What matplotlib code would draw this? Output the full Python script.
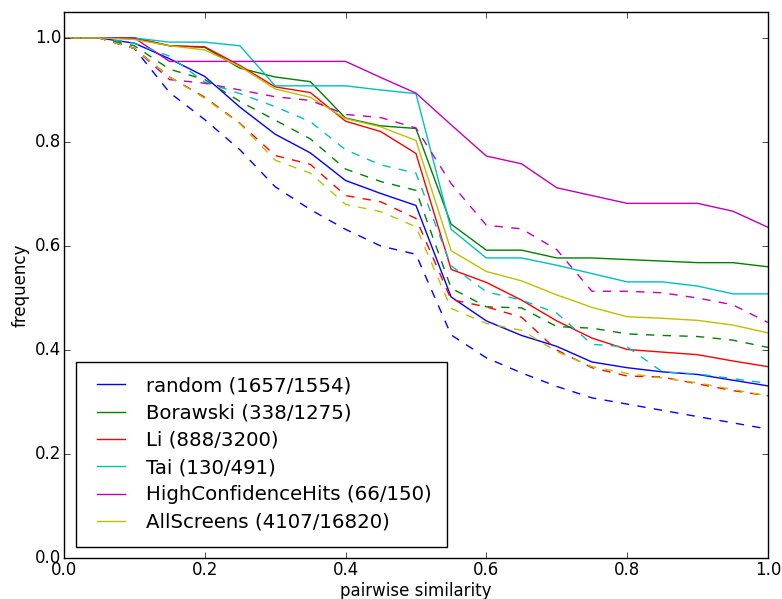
import matplotlib
matplotlib.use('Agg')
import matplotlib.pyplot as plt

plt.style.use('classic')

# similarity thresholds
sim = [0.0, 0.05, 0.1, 0.15, 0.2, 0.25, 0.3, 0.35, 0.4, 0.45, 0.5,
       0.55, 0.6, 0.65, 0.7, 0.75, 0.8, 0.85, 0.9, 0.95, 1.0]

labels = ['random (1657/1554)', 'Borawski (338/1275)', 'Li (888/3200)',
          'Tai (130/491)', 'HighConfidenceHits (66/150)', 'AllScreens (4107/16820)']
colors = ['b', 'g', 'r', 'c', 'm', 'y']

# solid lines
random_a = [1.0, 1.0, 0.99, 0.96, 0.926, 0.867, 0.815, 0.779, 0.726, 0.701, 0.678,
            0.502, 0.456, 0.428, 0.407, 0.377, 0.366, 0.358, 0.353, 0.342, 0.331]
borawski_a = [1.0, 1.0, 1.0, 0.985, 0.982, 0.942, 0.925, 0.916, 0.846, 0.831, 0.826,
              0.642, 0.592, 0.592, 0.577, 0.577, 0.574, 0.571, 0.568, 0.568, 0.560]
li_a = [1.0, 1.0, 1.0, 0.985, 0.983, 0.947, 0.906, 0.895, 0.840, 0.820, 0.778,
        0.555, 0.530, 0.496, 0.456, 0.423, 0.401, 0.396, 0.391, 0.379, 0.368]
tai_a = [1.0, 1.0, 1.0, 0.992, 0.992, 0.985, 0.908, 0.908, 0.908, 0.900, 0.893,
         0.632, 0.577, 0.577, 0.563, 0.547, 0.531, 0.531, 0.523, 0.508, 0.508]
hch_a = [1.0, 1.0, 1.0, 0.955, 0.955, 0.955, 0.955, 0.955, 0.955, 0.924, 0.894,
         0.833, 0.773, 0.758, 0.712, 0.697, 0.682, 0.682, 0.682, 0.667, 0.636]
alls_a = [1.0, 1.0, 0.997, 0.985, 0.977, 0.945, 0.902, 0.886, 0.845, 0.829, 0.803,
          0.591, 0.551, 0.533, 0.506, 0.482, 0.464, 0.461, 0.457, 0.448, 0.433]

# dashed lines
random_b = [1.0, 1.0, 0.98, 0.895, 0.843, 0.785, 0.714, 0.670, 0.632, 0.600, 0.584,
            0.429, 0.385, 0.356, 0.330, 0.308, 0.296, 0.284, 0.272, 0.260, 0.248]
borawski_b = [1.0, 1.0, 0.985, 0.94, 0.92, 0.878, 0.842, 0.806, 0.748, 0.724, 0.707,
              0.519, 0.483, 0.481, 0.445, 0.442, 0.431, 0.428, 0.426, 0.419, 0.405]
li_b = [1.0, 1.0, 0.98, 0.925, 0.886, 0.836, 0.774, 0.757, 0.697, 0.685, 0.653,
        0.497, 0.483, 0.463, 0.400, 0.366, 0.350, 0.348, 0.335, 0.322, 0.312]
tai_b = [1.0, 1.0, 0.99, 0.965, 0.915, 0.893, 0.868, 0.839, 0.785, 0.756, 0.740,
         0.562, 0.512, 0.496, 0.471, 0.411, 0.406, 0.358, 0.354, 0.345, 0.336]
hch_b = [1.0, 1.0, 0.98, 0.92, 0.913, 0.900, 0.887, 0.880, 0.853, 0.847, 0.827,
         0.720, 0.640, 0.633, 0.593, 0.513, 0.513, 0.510, 0.500, 0.487, 0.453]
alls_b = [1.0, 1.0, 0.98, 0.925, 0.884, 0.835, 0.765, 0.740, 0.680, 0.666, 0.637,
          0.480, 0.451, 0.438, 0.397, 0.368, 0.355, 0.346, 0.337, 0.324, 0.312]

solid = [random_a, borawski_a, li_a, tai_a, hch_a, alls_a]
dashed = [random_b, borawski_b, li_b, tai_b, hch_b, alls_b]

fig = plt.figure(figsize=(7.82, 5.99), dpi=100, facecolor='white')
ax = fig.add_axes([0.0818, 0.0684, 0.9002, 0.9116])

for ys, c, lab in zip(solid, colors, labels):
    ax.plot(sim, ys, '-', color=c, label=lab)
for ys, c in zip(dashed, colors):
    ax.plot(sim, ys, '--', color=c)

ax.set_xlim(0, 1)
ax.set_ylim(0, 1.05)
ax.tick_params(axis='both', which='major', pad=2)
ax.set_xlabel('pairwise similarity', labelpad=2)
ax.set_ylabel('frequency', labelpad=4)

ax.legend(loc='lower left', fontsize=14.2, bbox_to_anchor=(0.0175, 0.021),
          borderaxespad=0, borderpad=0.75, labelspacing=0.42)

fig.savefig('out.png', dpi=100, facecolor='white')
